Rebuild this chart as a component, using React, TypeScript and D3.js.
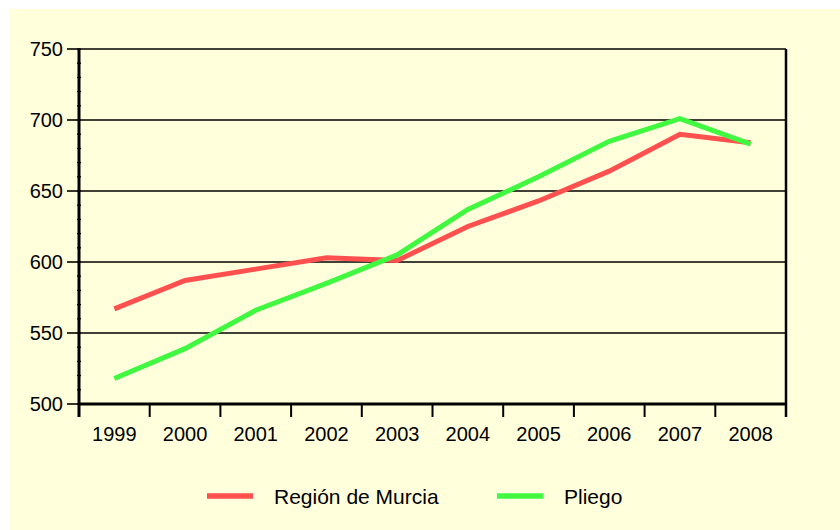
import React, { useEffect, useRef } from 'react';
import * as d3 from 'd3';

const years = ['1999', '2000', '2001', '2002', '2003', '2004', '2005', '2006', '2007', '2008'];
const murcia = [567, 587, 595, 603, 601, 625, 643, 664, 690, 684];
const pliego = [518, 539, 566, 585, 605, 637, 660, 685, 701, 683];
const yTicks = [500, 550, 600, 650, 700, 750];

const RED = '#ff5050';
const GREEN = '#40f840';

export default function App() {
  const svgRef = useRef<SVGSVGElement>(null);

  useEffect(() => {
    if (!svgRef.current) return;
    const svg = d3.select(svgRef.current);
    svg.selectAll('*').remove();

    const left = 79, right = 786, top = 49, bottom = 404;

    svg.append('rect')
      .attr('x', 9).attr('y', 9)
      .attr('width', 840).attr('height', 530)
      .attr('fill', '#ffffdc');

    const x = d3.scaleBand<string>().domain(years).range([left, right]);
    const y = d3.scaleLinear().domain([500, 750]).range([bottom, top]);

    const g = svg.append('g').style('font-family', 'Arial, "Liberation Sans", sans-serif');

    // Gridlines
    g.selectAll('.grid')
      .data(yTicks.slice(1))
      .enter().append('line')
      .attr('x1', left).attr('x2', right)
      .attr('y1', d => y(d)).attr('y2', d => y(d))
      .attr('stroke', '#000').attr('stroke-width', 1.6);

    // Minor ticks on y axis
    g.selectAll('.minor')
      .data(d3.range(500, 751, 10))
      .enter().append('line')
      .attr('x1', left - 2).attr('x2', left + 2)
      .attr('y1', d => y(d)).attr('y2', d => y(d))
      .attr('stroke', '#000').attr('stroke-width', 1.3);

    // Major ticks and labels on y axis
    g.selectAll('.ytick')
      .data(yTicks)
      .enter().append('line')
      .attr('x1', left - 12).attr('x2', left)
      .attr('y1', d => y(d)).attr('y2', d => y(d))
      .attr('stroke', '#000').attr('stroke-width', 1.6);

    g.selectAll('.ylab')
      .data(yTicks)
      .enter().append('text')
      .attr('x', left - 16)
      .attr('y', d => y(d))
      .attr('dy', '0.36em')
      .attr('text-anchor', 'end')
      .attr('font-size', 20)
      .attr('fill', '#000')
      .text(d => d);

    // x ticks at band boundaries
    const bounds = years.map(d => x(d) as number).concat([right]);
    g.selectAll('.xtick')
      .data(bounds)
      .enter().append('line')
      .attr('x1', d => d).attr('x2', d => d)
      .attr('y1', bottom).attr('y2', bottom + 13)
      .attr('stroke', '#000').attr('stroke-width', 2);

    g.selectAll('.xlab')
      .data(years)
      .enter().append('text')
      .attr('x', d => (x(d) as number) + x.bandwidth() / 2)
      .attr('y', 441)
      .attr('text-anchor', 'middle')
      .attr('font-size', 20)
      .attr('fill', '#000')
      .text(d => d);

    // Axes frame
    g.append('line')
      .attr('x1', left).attr('x2', left)
      .attr('y1', top).attr('y2', bottom + 13)
      .attr('stroke', '#000').attr('stroke-width', 3);
    g.append('line')
      .attr('x1', right).attr('x2', right)
      .attr('y1', top).attr('y2', bottom + 13)
      .attr('stroke', '#000').attr('stroke-width', 2.5);
    g.append('line')
      .attr('x1', left).attr('x2', right)
      .attr('y1', bottom).attr('y2', bottom)
      .attr('stroke', '#000').attr('stroke-width', 3);

    const line = d3.line<number>()
      .x((_, i) => (x(years[i]) as number) + x.bandwidth() / 2)
      .y(d => y(d));

    g.append('path')
      .datum(murcia)
      .attr('d', line)
      .attr('fill', 'none')
      .attr('stroke', RED)
      .attr('stroke-width', 5);

    g.append('path')
      .datum(pliego)
      .attr('d', line)
      .attr('fill', 'none')
      .attr('stroke', GREEN)
      .attr('stroke-width', 5);

    // Legend
    const legend = [
      { name: 'Región de Murcia', color: RED, x: 207 },
      { name: 'Pliego', color: GREEN, x: 497 },
    ];
    const lg = g.selectAll('.legend')
      .data(legend)
      .enter().append('g')
      .attr('transform', d => `translate(${d.x},496)`);
    lg.append('line')
      .attr('x1', 0).attr('x2', 46)
      .attr('stroke', d => d.color)
      .attr('stroke-width', 5.5);
    lg.append('text')
      .attr('x', 67)
      .attr('dy', '0.36em')
      .attr('font-size', 21)
      .attr('fill', '#000')
      .text(d => d.name);
  }, []);

  return (
    <svg
      ref={svgRef}
      width={840}
      height={530}
      style={{ position: 'absolute', left: 0, top: 0 }}
    />
  );
}
